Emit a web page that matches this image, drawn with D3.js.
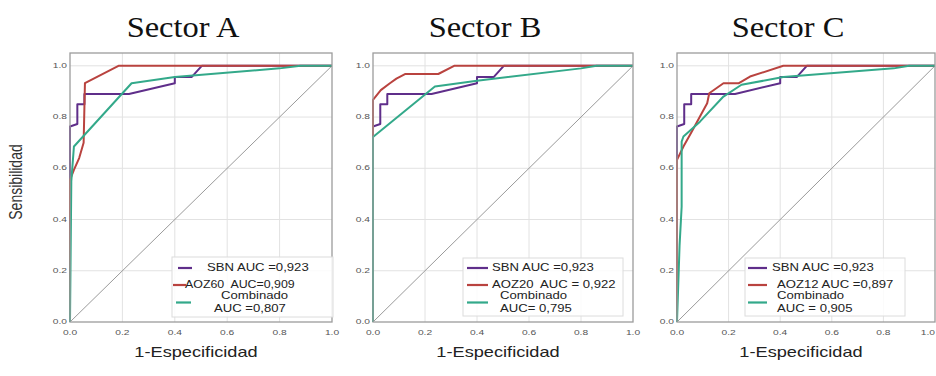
<!DOCTYPE html>
<html>
<head>
<meta charset="utf-8">
<script src="https://cdn.jsdelivr.net/npm/d3@7"></script>
<style>
  html, body { margin: 0; padding: 0; background: #fff; }
  svg { display: block; }
  svg text { white-space: pre; }
</style>
</head>
<body>
<svg id="chart" width="936" height="376"></svg>
<script>
// ---- data ----
const sectorTitles = ["Sector A", "Sector B", "Sector C"];
const tickValues = [0, 0.2, 0.4, 0.6, 0.8, 1.0];

// SBN curve is the same in the three sectors
const sbnRoc = [[0, 0], [0, 0.763], [0.028, 0.773], [0.028, 0.85], [0.055, 0.85], [0.055, 0.89],
  [0.225, 0.89], [0.40, 0.932], [0.40, 0.956], [0.464, 0.956], [0.503, 1], [1, 1]];

const aoz60Roc = [[0, 0], [0, 0.555], [0.015, 0.594], [0.035, 0.64], [0.052, 0.70], [0.057, 0.932],
  [0.185, 1], [1, 1]];
const aoz20Roc = [[0, 0], [0, 0.867], [0.03, 0.905], [0.065, 0.932], [0.09, 0.95], [0.123, 0.968],
  [0.251, 0.968], [0.312, 1], [1, 1]];
const aoz12Roc = [[0, 0], [0, 0.633], [0.025, 0.685], [0.057, 0.743], [0.089, 0.802], [0.117, 0.854],
  [0.125, 0.893], [0.18, 0.932], [0.24, 0.932], [0.283, 0.958], [0.412, 1], [1, 1]];

const combARoc = [[0, 0], [0.005, 0.55], [0.015, 0.685], [0.235, 0.932], [0.40, 0.956], [0.80, 0.99],
  [0.88, 1], [1, 1]];
const combBRoc = [[0, 0], [0, 0.722], [0.238, 0.919], [0.40, 0.942], [0.80, 0.99], [0.86, 1], [1, 1]];
const combCRoc = [[0, 0], [0.01, 0.3], [0.018, 0.45], [0.018, 0.704], [0.025, 0.724], [0.089, 0.782],
  [0.18, 0.88], [0.25, 0.926], [0.412, 0.956], [0.84, 0.99], [0.9, 1], [1, 1]];

const sbnLabels = ["SBN AUC =0,923", "SBN AUC =0,923", "SBN AUC =0,923"];
const aozLabels = ["AOZ60  AUC=0,909", "AOZ20  AUC = 0,922", "AOZ12 AUC =0,897"];
const combLabels = [["Combinado", "AUC =0,807"], ["Combinado", "AUC= 0,795"], ["Combinado", "AUC = 0,905"]];

const aozSeries = [aoz60Roc, aoz20Roc, aoz12Roc];
const combSeries = [combARoc, combBRoc, combCRoc];

// ---- layout ----
const COLORS = { sbn: "#5f2e8a", aoz: "#b9433f", comb: "#33a98a" };
const SX = 1.28; // picture is stretched horizontally
const W = 936;

const panelX = [[70, 332], [373, 633], [677, 935]];
const plotTop = 53, plotBottom = 322;

// legend placement per panel (box, swatches, text starts)
const legendLayout = [
  { box: [172, 257, 161, 60], sw: [[178, 192], [173, 186], [176, 191]], tx: [207, 185, 221, 214] },
  { box: [463, 258, 160, 58], sw: [[467, 488], [467, 488], [467, 488]], tx: [492, 492, 500, 500] },
  { box: [745, 258, 160, 58], sw: [[748, 767], [748, 767], [748, 767]], tx: [772, 777, 777, 777] }
];
const legendRowY = [268, 285, 296, 309];

const svg = d3.select("#chart");

function stretchedText(g, x, y, str, opts) {
  return g.append("text")
    .attr("transform", `translate(${x},${y}) scale(${opts.sx || SX},1)` + (opts.rotate ? ` rotate(${opts.rotate})` : ""))
    .attr("text-anchor", opts.anchor || "start")
    .attr("dominant-baseline", opts.baseline || "auto")
    .style("font-family", opts.family || "'Liberation Sans', Arial, sans-serif")
    .style("font-size", opts.size + "px")
    .style("fill", opts.color || "#222")
    .text(str);
}

// y label
stretchedText(svg, 22, 182, "Sensibilidad", { size: 14, anchor: "middle", rotate: -90, color: "#333" });

sectorTitles.forEach((title, i) => {
  const [x0, x1] = panelX[i];
  const x = d3.scaleLinear().domain([0, 1]).range([x0, x1]);
  const y = d3.scaleLinear().domain([0, 1.05]).range([plotBottom, plotTop]);
  const g = svg.append("g");

  // title
  stretchedText(g, (x0 + x1) / 2 - 18, 37, title, {
    size: 29, anchor: "middle", sx: 1.12, color: "#111",
    family: "'Liberation Serif', 'Times New Roman', serif"
  });

  // grid
  g.append("g").selectAll("line.gx")
    .data(tickValues.slice(1, -1))
    .join("line")
    .attr("x1", d => x(d)).attr("x2", d => x(d))
    .attr("y1", plotTop).attr("y2", plotBottom)
    .attr("stroke", "#e2e2e2").attr("stroke-width", 1);
  g.append("g").selectAll("line.gy")
    .data(tickValues.slice(1))
    .join("line")
    .attr("x1", x0).attr("x2", x1)
    .attr("y1", d => y(d)).attr("y2", d => y(d))
    .attr("stroke", "#e2e2e2").attr("stroke-width", 1);

  // diagonal reference
  g.append("line")
    .attr("x1", x(0)).attr("y1", y(0))
    .attr("x2", x(1)).attr("y2", y(1))
    .attr("stroke", "#9a9a9a").attr("stroke-width", 1);

  // ROC curves
  const line = d3.line().x(d => x(d[0])).y(d => y(d[1]));
  [[sbnRoc, COLORS.sbn], [aozSeries[i], COLORS.aoz], [combSeries[i], COLORS.comb]].forEach(([data, c]) => {
    g.append("path")
      .datum(data)
      .attr("fill", "none")
      .attr("stroke", c)
      .attr("stroke-width", 2)
      .attr("stroke-linejoin", "round")
      .attr("d", line);
  });

  // frame
  g.append("rect")
    .attr("x", x0).attr("y", plotTop)
    .attr("width", x1 - x0).attr("height", plotBottom - plotTop)
    .attr("fill", "none").attr("stroke", "#9c9c9c").attr("stroke-width", 1.3);

  // tick labels (last one nudged in so it stays inside the page)
  tickValues.forEach(v => {
    const tx = x(v);
    const nearEdge = tx + 8 > W;
    stretchedText(g, nearEdge ? W - 1 : tx, 335, d3.format(".1f")(v), { size: 8, anchor: nearEdge ? "end" : "middle", color: "#555" });
    stretchedText(g, x0 - 3, y(v), d3.format(".1f")(v), { size: 8, anchor: "end", baseline: "middle", color: "#555" });
  });

  // x label
  stretchedText(g, (x0 + x1) / 2 - 5, 357, "1-Especificidad", { size: 14, anchor: "middle", sx: 1.3, color: "#222" });

  // legend
  const L = legendLayout[i];
  const lg = g.append("g");
  lg.append("rect")
    .attr("x", L.box[0]).attr("y", L.box[1])
    .attr("width", L.box[2]).attr("height", L.box[3])
    .attr("fill", "#fff").attr("fill-opacity", 0.85)
    .attr("stroke", "#dcdcdc").attr("stroke-width", 1);
  const swY = [legendRowY[0], legendRowY[1], (legendRowY[2] + legendRowY[3]) / 2];
  [COLORS.sbn, COLORS.aoz, COLORS.comb].forEach((c, k) => {
    lg.append("line")
      .attr("x1", L.sw[k][0]).attr("x2", L.sw[k][1])
      .attr("y1", swY[k]).attr("y2", swY[k])
      .attr("stroke", c).attr("stroke-width", 2.2);
  });
  const texts = [sbnLabels[i], aozLabels[i], combLabels[i][0], combLabels[i][1]];
  texts.forEach((t, k) => {
    stretchedText(lg, L.tx[k], legendRowY[k], t, { size: 10.5, baseline: "middle", sx: i === 0 && k === 1 ? 1.18 : 1.25, color: "#222" });
  });
});
</script>
</body>
</html>
